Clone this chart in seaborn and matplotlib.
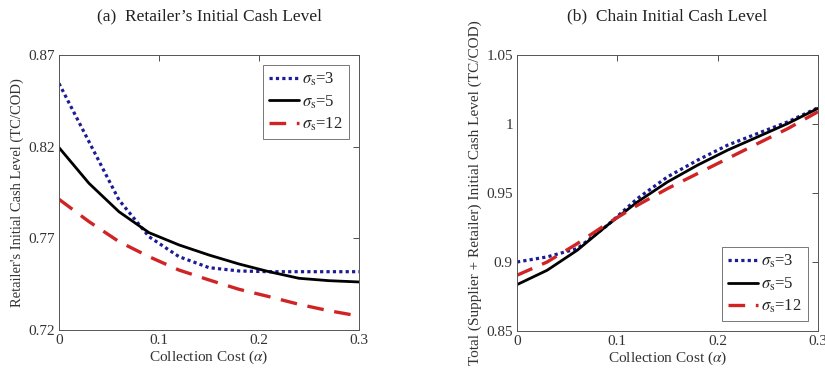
import numpy as np
import pandas as pd
import matplotlib
matplotlib.use("Agg")
import matplotlib.pyplot as plt
import seaborn as sns

# ---- data ----
alpha = [0.0, 0.03, 0.06, 0.09, 0.12, 0.15, 0.18, 0.21, 0.24, 0.27, 0.30]

retailer_s3 = [0.8545, 0.8227, 0.7909, 0.7709, 0.7600, 0.7540, 0.7522, 0.7518, 0.7518, 0.7518, 0.7518]
retailer_s5 = [0.8195, 0.8000, 0.7845, 0.7731, 0.7664, 0.7609, 0.7560, 0.7518, 0.7482, 0.7469, 0.7462]
retailer_s12 = [0.7913, 0.7791, 0.7682, 0.7600, 0.7527, 0.7473, 0.7422, 0.7382, 0.7340, 0.7305, 0.7276]

chain_s3 = [0.9000, 0.9037, 0.9097, 0.9266, 0.9460, 0.9617, 0.9738, 0.9847, 0.9932, 1.0016, 1.0118]
chain_s5 = [0.8836, 0.8940, 0.9085, 0.9266, 0.9435, 0.9580, 0.9702, 0.9811, 0.9907, 1.0004, 1.0113]
chain_s12 = [0.8904, 0.9000, 0.9133, 0.9278, 0.9411, 0.9532, 0.9641, 0.9750, 0.9859, 0.9967, 1.0089]

series_labels = [r"$\sigma_{\rm s}$=3", r"$\sigma_{\rm s}$=5", r"$\sigma_{\rm s}$=12"]
titles = ["(a)  Retailer\u2019s Initial Cash Level", "(b)  Chain Initial Cash Level"]
xlabel = r"Collection Cost ($\alpha$)"
ylabels = ["Retailer's Initial Cash Level (TC/COD)",
           "Total (Supplier + Retailer) Initial Cash Level (TC/COD)"]
xticks = [0, 0.1, 0.2, 0.3]
xticklabels = ["0", "0.1", "0.2", "0.3"]
yticks_a = [0.72, 0.77, 0.82, 0.87]
yticklabels_a = ["0.72", "0.77", "0.82", "0.87"]
yticks_b = [0.85, 0.90, 0.95, 1.00, 1.05]
yticklabels_b = ["0.85", "0.9", "0.95", "1", "1.05"]

# ---- styling ----
sns.set_style("white")
plt.rcParams["font.family"] = ["Liberation Serif", "DejaVu Serif"]
plt.rcParams["mathtext.fontset"] = "stix"

colors = ["#1c1c96", "#000000", "#d02424"]
styles = [(0, (1, 1)), "-", (0, (5, 3.2))]
widths = [2.3, 2.0, 2.4]

fig = plt.figure(figsize=(8.25, 3.74), dpi=100)
ax1 = fig.add_axes([59 / 825, 1 - 330 / 374, 300 / 825, 275 / 374])
ax2 = fig.add_axes([517 / 825, 1 - 331 / 374, 301 / 825, 276 / 374])

panels = [
    (ax1, [retailer_s3, retailer_s5, retailer_s12], yticks_a, yticklabels_a, (0.72, 0.87), "upper right"),
    (ax2, [chain_s3, chain_s5, chain_s12], yticks_b, yticklabels_b, (0.85, 1.05), "lower right"),
]

for i, (ax, data, yt, ytl, ylim, loc) in enumerate(panels):
    for vals, lab, c, ls, lw in zip(data, series_labels, colors, styles, widths):
        df = pd.DataFrame({"alpha": alpha, "value": vals})
        sns.lineplot(data=df, x="alpha", y="value", ax=ax, color=c,
                     linestyle=ls, linewidth=lw, label=lab)
    ax.set_xlim(0, 0.3)
    ax.set_ylim(*ylim)
    ax.set_xticks(xticks)
    ax.set_xticklabels(xticklabels)
    ax.set_yticks(yt)
    ax.set_yticklabels(ytl)
    ax.tick_params(direction="in", top=True, right=True, length=4, width=0.6,
                   labelsize=11, colors="#333333", pad=3)
    for sp in ax.spines.values():
        sp.set_color("#555555")
        sp.set_linewidth(0.7)
    ax.set_xlabel(xlabel, fontsize=11, color="#333333", labelpad=1)
    ax.set_ylabel(ylabels[i], fontsize=10.5 if i == 0 else 11, color="#333333", labelpad=3)
    leg = ax.legend(loc=loc, fontsize=12, frameon=True, fancybox=False,
                    handlelength=1.8, handletextpad=0.2, borderpad=0.35,
                    labelspacing=0.3, borderaxespad=0.6)
    leg.get_frame().set_edgecolor("#555555")
    leg.get_frame().set_linewidth(0.7)
    fig.text((ax.get_position().x0 + ax.get_position().x1) / 2, 1 - 16 / 374, titles[i],
             ha="center", va="center", fontsize=12.5, color="#222222",
             family=["Liberation Serif"])

fig.savefig("out.png", dpi=100, facecolor="white")
